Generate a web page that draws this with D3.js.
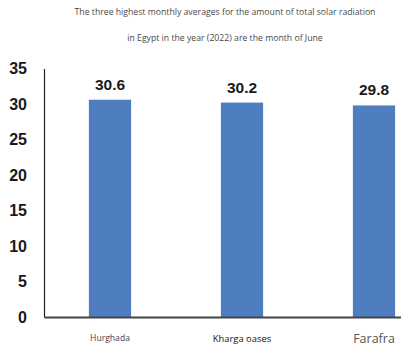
<!DOCTYPE html>
<html>
<head>
<meta charset="utf-8">
<script src="https://cdn.jsdelivr.net/npm/d3@7"></script>
<style>
  html, body { margin: 0; padding: 0; background: #fff; }
  svg { display: block; }
</style>
</head>
<body>
<script>
// Monthly average of total solar radiation, June 2022
const stations = ["Hurghada", "Kharga oases", "Farafra"];
const radiation = [30.6, 30.2, 29.8];
const yTicks = [0, 5, 10, 15, 20, 25, 30, 35];
const titleLines = [
  "The three highest monthly averages for the amount of total solar radiation",
  "in Egypt in the year (2022) are the month of June"
];

const W = 401, H = 346;
const svg = d3.select("body").append("svg").attr("width", W).attr("height", H);

const x = d3.scaleBand().domain(stations).range([44, 440])
  .paddingInner(0.68).paddingOuter(0.34);
const y = d3.scaleLinear().domain([0, 35]).range([317, 68.5]);

// title
svg.append("g").selectAll("text").data(titleLines).join("text")
  .attr("x", 225).attr("y", (d, i) => 15 + i * 26)
  .attr("text-anchor", "middle")
  .attr("font-family", "Open Sans, sans-serif")
  .attr("font-size", 8.7)
  .attr("fill", "#4a4a4a")
  .text(d => d);

// bars
svg.append("g").selectAll("rect").data(radiation).join("rect")
  .attr("x", (d, i) => x(stations[i]))
  .attr("y", d => y(d))
  .attr("width", x.bandwidth())
  .attr("height", d => y(0) - y(d))
  .attr("fill", "#4f7ec0");

// value labels
svg.append("g").selectAll("text").data(radiation).join("text")
  .attr("x", (d, i) => x(stations[i]) + x.bandwidth() / 2)
  .attr("y", d => y(d) - 10)
  .attr("text-anchor", "middle")
  .attr("font-family", "Liberation Sans, Arial, sans-serif")
  .attr("font-weight", "bold")
  .attr("font-size", 15.5)
  .attr("fill", "#1a1a1a")
  .text(d => d.toFixed(1));

// y axis
const yAxis = svg.append("g").attr("transform", "translate(44,0)")
  .call(d3.axisLeft(y).tickValues(yTicks).tickSize(0).tickPadding(17));
yAxis.select(".domain").attr("stroke", "#222").attr("stroke-width", 1.2);
yAxis.selectAll("text")
  .attr("font-family", "Liberation Sans, Arial, sans-serif")
  .attr("font-weight", "bold")
  .attr("font-size", 16)
  .attr("fill", "#1a1a1a");

// x axis
const xAxis = svg.append("g").attr("transform", `translate(0,${y(0)})`)
  .call(d3.axisBottom(x).tickSize(0).tickPadding(18));
xAxis.select(".domain").attr("stroke", "#444").attr("stroke-width", 1.8);
const catSize = { "Hurghada": 8.6, "Kharga oases": 9.4, "Farafra": 12.5 };
const catFill = { "Hurghada": "#444", "Kharga oases": "#111", "Farafra": "#555" };
xAxis.selectAll("text")
  .attr("font-family", "Open Sans, sans-serif")
  .attr("font-size", d => catSize[d])
  .attr("fill", d => catFill[d])
  .attr("dy", d => d === "Farafra" ? "0.6em" : "0.7em");
</script>
</body>
</html>
